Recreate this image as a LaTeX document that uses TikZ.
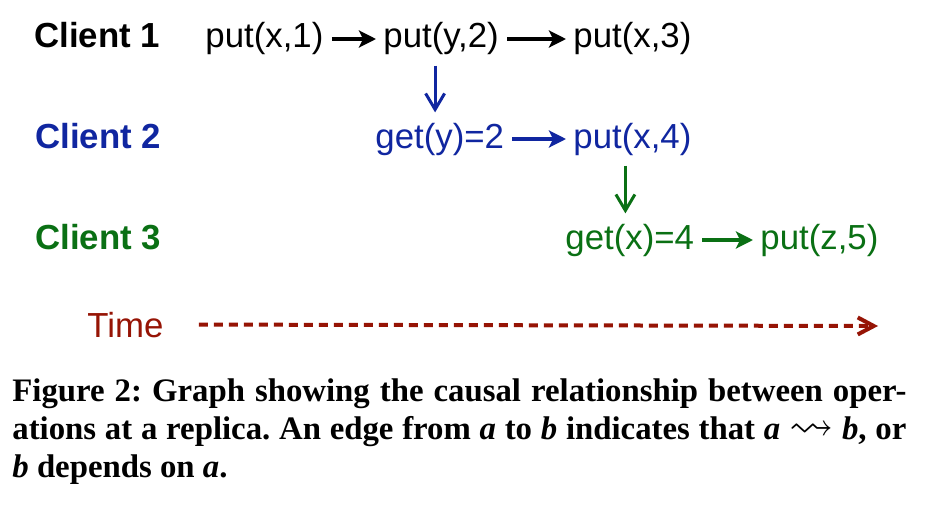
\documentclass[tikz,border=0pt]{standalone}
\usepackage{amssymb}
\usepackage{fontspec}
\setmainfont{Liberation Serif}
\setsansfont{Liberation Sans}
\usetikzlibrary{arrows.meta}
\definecolor{bla}{RGB}{16,38,160}
\definecolor{gron}{RGB}{10,112,20}
\definecolor{rod}{RGB}{150,20,5}
\frenchspacing

\begin{document}
\begin{tikzpicture}[x=0.5pt,y=0.5pt,
  op/.style={anchor=base west, inner sep=0pt, font=\sffamily\fontsize{17.4}{20}\selectfont},
  client/.style={op, font=\sffamily\bfseries\fontsize{17.4}{20}\selectfont},
  harrow/.style={line width=1.6pt, -{Stealth[length=8.5pt,width=8.5pt,inset=2pt]}, shorten <=4pt, shorten >=3.5pt},
  varrow/.style={line width=1.5pt, -{Straight Barb[length=8pt,width=9.5pt]}, shorten <=5pt, shorten >=5pt},
  captext/.style={anchor=base west, inner sep=0pt, font=\fontsize{16.4}{18}\selectfont\bfseries}]
\useasboundingbox (0,0) rectangle (942,510);
% client 1
\node[client] (c1) at (34,462) {Client 1};
\node[op] (p1) at (205,462) {put(x,1)};
\node[op] (p2) at (383,462) {put(y,2)};
\node[op] (p3) at (573,462) {put(x,3)};
\draw[harrow] (p1) -- (p2);
\draw[harrow] (p2) -- (p3);
% client 2
\node[client, bla] (c2) at (35,362) {Client 2};
\node[op, bla] (g2) at (375,362) {get(y)=2};
\node[op, bla] (p4) at (573,362) {put(x,4)};
\draw[harrow, bla] (g2) -- (p4);
\draw[varrow, bla] ([xshift=-3pt]p2.south) coordinate (v1) -- (v1 |- g2.north);
% client 3
\node[client, gron] (c3) at (35,261) {Client 3};
\node[op, gron] (g3) at (565,261) {get(x)=4};
\node[op, gron] (p5) at (760,261) {put(z,5)};
\draw[harrow, gron] (g3) -- (p5);
\draw[varrow, gron] ([xshift=-3.5pt]p4.south) coordinate (v2) -- (v2 |- g3.north);
% time
\node[op, rod] (tm) at (87,173) {Time};
\coordinate (te) at (878,184);
\draw[rod, line width=2pt, dash pattern=on 4.5pt off 3pt, -{Straight Barb[length=8pt,width=8.5pt]}] ([xshift=17.5pt]tm.east) -- (te);
% caption
\node[captext] (l1) at (12,109) {\makebox[447pt][s]{Figure 2: Graph showing the causal relationship between oper-}};
\node[captext] (l2) at (12,71) {\makebox[447pt][s]{ations at a replica. An edge from \textit{a} to \textit{b} indicates that \textit{a} \scalebox{1.35}{$\leadsto$} \textit{b}, or}};
\node[captext] (l3) at (12,33) {\textit{b} depends on \textit{a}.};
\end{tikzpicture}
\end{document}
